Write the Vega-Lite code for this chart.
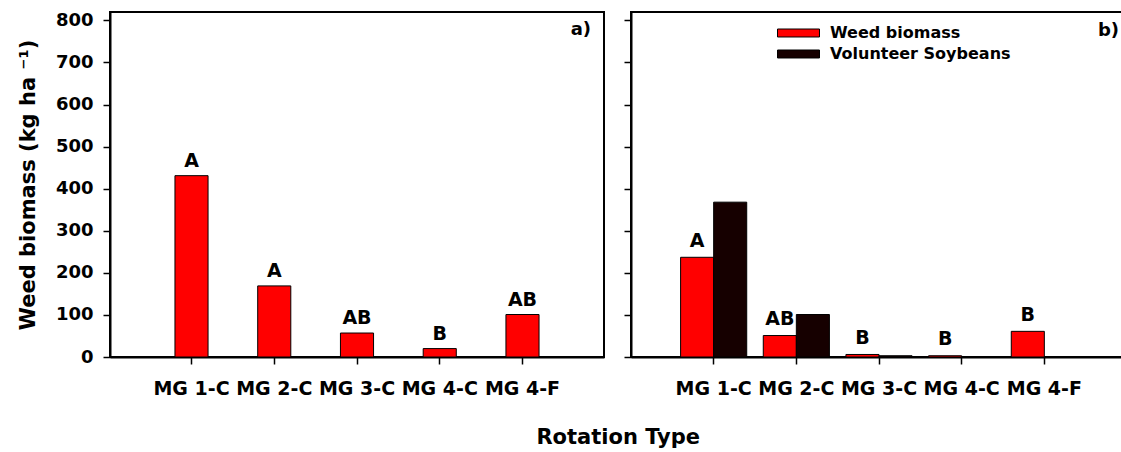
{
  "$schema": "https://vega.github.io/schema/vega-lite/v6.json",
  "padding": {"left": 16, "top": 10, "right": 0, "bottom": 0},
  "background": "white",
  "datasets": {
    "a": [
      {"rotation": "MG 1-C", "biomass": 431, "letter": "A"},
      {"rotation": "MG 2-C", "biomass": 169, "letter": "A"},
      {"rotation": "MG 3-C", "biomass": 57, "letter": "AB"},
      {"rotation": "MG 4-C", "biomass": 20, "letter": "B"},
      {"rotation": "MG 4-F", "biomass": 101, "letter": "AB"}
    ],
    "b": [
      {"rotation": "MG 1-C", "series": "Weed biomass", "biomass": 237, "letter": "A"},
      {"rotation": "MG 1-C", "series": "Volunteer Soybeans", "biomass": 368, "letter": ""},
      {"rotation": "MG 2-C", "series": "Weed biomass", "biomass": 51, "letter": "AB"},
      {"rotation": "MG 2-C", "series": "Volunteer Soybeans", "biomass": 101, "letter": ""},
      {"rotation": "MG 3-C", "series": "Weed biomass", "biomass": 6, "letter": "B"},
      {"rotation": "MG 3-C", "series": "Volunteer Soybeans", "biomass": 3, "letter": ""},
      {"rotation": "MG 4-C", "series": "Weed biomass", "biomass": 3, "letter": "B"},
      {"rotation": "MG 4-C", "series": "Volunteer Soybeans", "biomass": 0, "letter": ""},
      {"rotation": "MG 4-F", "series": "Weed biomass", "biomass": 61, "letter": "B"},
      {"rotation": "MG 4-F", "series": "Volunteer Soybeans", "biomass": 0, "letter": ""}
    ]
  },
  "title": {
    "text": "Rotation Type",
    "orient": "bottom",
    "anchor": "middle",
    "offset": 28,
    "dx": 46,
    "fontSize": 21,
    "font": "DejaVu Sans",
    "fontWeight": "bold",
    "color": "black"
  },
  "spacing": 17,
  "hconcat": [
    {
      "width": 494,
      "height": 345,
      "title": {"text": "a)", "anchor": "end", "frame": "group", "offset": -28, "dx": -13, "fontSize": 18, "font": "DejaVu Sans", "fontWeight": "bold", "color": "black"},
      "data": {"name": "a"},
      "encoding": {
        "x": {
          "field": "rotation", "type": "nominal", "sort": null,
          "scale": {"paddingInner": 0, "paddingOuter": 0.485},
          "axis": {"title": null}
        },
        "y": {
          "field": "biomass", "type": "quantitative",
          "scale": {"domain": [0, 820], "nice": false, "zero": true},
          "axis": {"title": "Weed biomass (kg ha ⁻¹)", "values": [0, 100, 200, 300, 400, 500, 600, 700, 800]}
        }
      },
      "layer": [
        {"mark": {"type": "bar", "width": {"band": 0.4}, "fill": "#ff0000", "stroke": "black", "strokeWidth": 1}},
        {
          "mark": {"type": "text", "baseline": "alphabetic", "dy": -9, "font": "DejaVu Sans", "fontWeight": "bold", "fontSize": 19, "color": "black"},
          "encoding": {"text": {"field": "letter", "type": "nominal"}}
        }
      ]
    },
    {
      "width": 496,
      "height": 345,
      "title": {"text": "b)", "anchor": "end", "frame": "group", "offset": -28, "dx": -8, "fontSize": 18, "font": "DejaVu Sans", "fontWeight": "bold", "color": "black"},
      "data": {"name": "b"},
      "encoding": {
        "x": {
          "field": "rotation", "type": "nominal", "sort": null,
          "scale": {"paddingInner": 0, "paddingOuter": 0.5},
          "axis": {"title": null}
        },
        "xOffset": {
          "field": "series", "type": "nominal",
          "scale": {"domain": ["Weed biomass", "Volunteer Soybeans"], "paddingInner": 0, "paddingOuter": 0.25}
        },
        "y": {
          "field": "biomass", "type": "quantitative",
          "scale": {"domain": [0, 820], "nice": false, "zero": true},
          "axis": {"title": null, "labels": false, "values": [0, 100, 200, 300, 400, 500, 600, 700, 800]}
        }
      },
      "layer": [
        {
          "mark": {"type": "bar", "stroke": "black", "strokeWidth": 1},
          "encoding": {
            "color": {
              "field": "series", "type": "nominal",
              "scale": {"domain": ["Weed biomass", "Volunteer Soybeans"], "range": ["#ff0000", "#160000"]},
              "legend": {
                "orient": "none", "legendX": 677.5, "legendY": 10, "title": null, "padding": 0,
                "symbolType": "M-2,-0.38H2V0.38H-2Z", "symbolSize": 441,
                "symbolStrokeColor": "black", "symbolStrokeWidth": 1,
                "labelFont": "DejaVu Sans", "labelFontWeight": "bold", "labelFontSize": 16, "labelColor": "black",
                "labelOffset": 20.5, "labelLimit": 400, "rowPadding": 2
              }
            }
          }
        },
        {
          "transform": [{"filter": "datum.series === 'Weed biomass'"}],
          "mark": {"type": "text", "baseline": "alphabetic", "dy": -10.5, "font": "DejaVu Sans", "fontWeight": "bold", "fontSize": 19, "color": "black"},
          "encoding": {"text": {"field": "letter", "type": "nominal"}}
        }
      ]
    }
  ],
  "config": {
    "view": {"stroke": "black", "strokeWidth": 2},
    "font": "DejaVu Sans",
    "axis": {
      "domainColor": "black", "domainWidth": 2,
      "tickColor": "black", "tickWidth": 1.5, "tickSize": 7,
      "labelColor": "black", "labelFont": "DejaVu Sans", "labelFontWeight": "bold",
      "titleColor": "black", "titleFont": "DejaVu Sans", "titleFontWeight": "bold", "titleFontSize": 21,
      "grid": false
    },
    "axisX": {"labelFontSize": 19, "labelPadding": 15, "labelAngle": 0, "labelOverlap": false},
    "axisY": {"labelFontSize": 18, "labelPadding": 10, "titlePadding": 17}
  }
}
